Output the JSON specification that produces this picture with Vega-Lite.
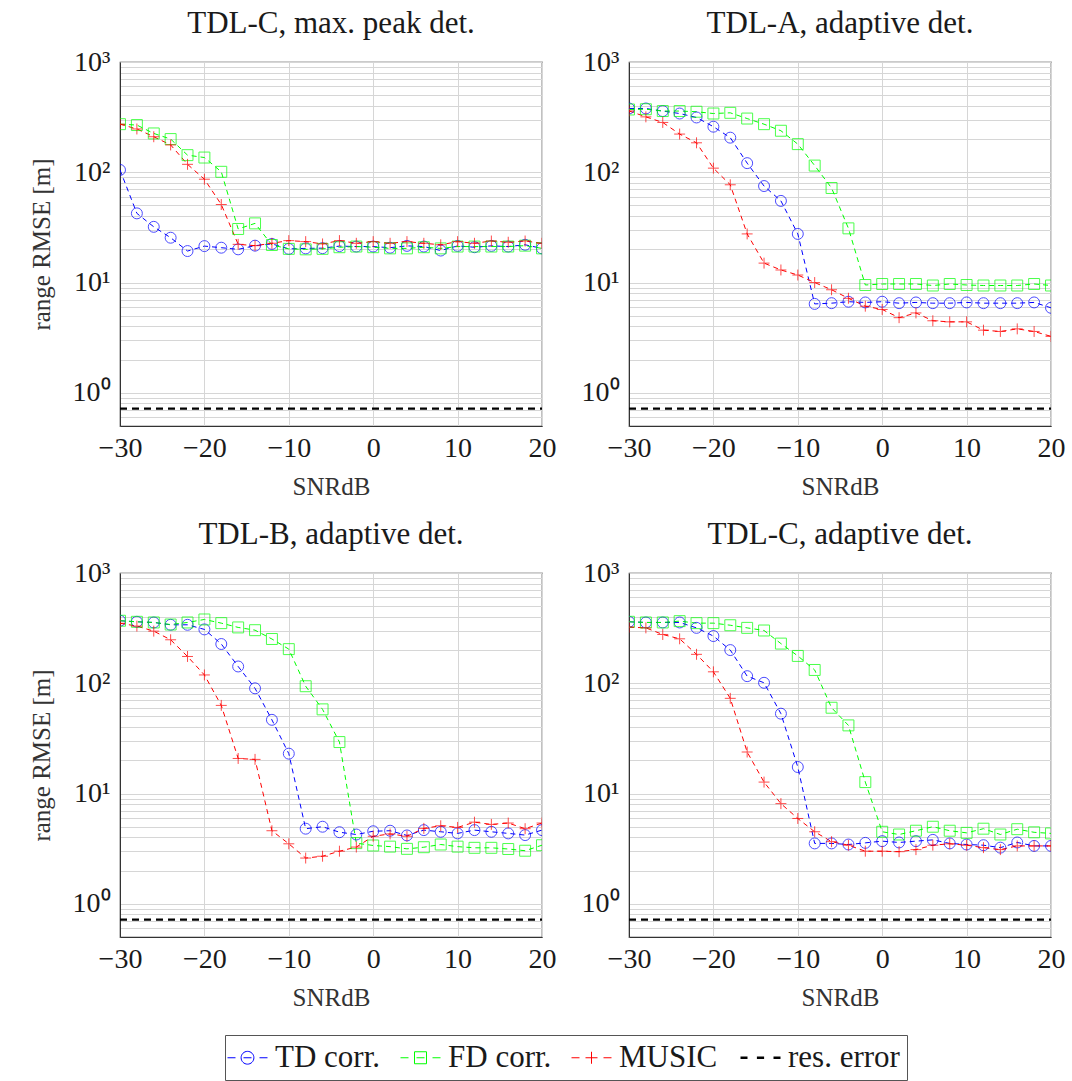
{
"$schema": "https://vega.github.io/schema/vega-lite/v6.json",
"padding": {"left": 28, "top": 7, "right": 10, "bottom": 5},
"data": {"values": [
{"panel":"A","series":"TD corr.","snr":-30,"rmse":105},{"panel":"A","series":"TD corr.","snr":-28,"rmse":42.4},{"panel":"A","series":"TD corr.","snr":-26,"rmse":32},{"panel":"A","series":"TD corr.","snr":-24,"rmse":25.5},{"panel":"A","series":"TD corr.","snr":-22,"rmse":19.3},{"panel":"A","series":"TD corr.","snr":-20,"rmse":21.4},{"panel":"A","series":"TD corr.","snr":-18,"rmse":20.7},{"panel":"A","series":"TD corr.","snr":-16,"rmse":20.0},{"panel":"A","series":"TD corr.","snr":-14,"rmse":21.6},{"panel":"A","series":"TD corr.","snr":-12,"rmse":22.4},{"panel":"A","series":"TD corr.","snr":-10,"rmse":20.2},{"panel":"A","series":"TD corr.","snr":-8,"rmse":20.4},{"panel":"A","series":"TD corr.","snr":-6,"rmse":20.5},{"panel":"A","series":"TD corr.","snr":-4,"rmse":21.4},{"panel":"A","series":"TD corr.","snr":-2,"rmse":21.2},{"panel":"A","series":"TD corr.","snr":0,"rmse":21.2},{"panel":"A","series":"TD corr.","snr":2,"rmse":20.7},{"panel":"A","series":"TD corr.","snr":4,"rmse":21.5},{"panel":"A","series":"TD corr.","snr":6,"rmse":21.2},{"panel":"A","series":"TD corr.","snr":8,"rmse":19.5},{"panel":"A","series":"TD corr.","snr":10,"rmse":21.5},{"panel":"A","series":"TD corr.","snr":12,"rmse":20.9},{"panel":"A","series":"TD corr.","snr":14,"rmse":21.5},{"panel":"A","series":"TD corr.","snr":16,"rmse":21.2},{"panel":"A","series":"TD corr.","snr":18,"rmse":22.0},{"panel":"A","series":"TD corr.","snr":20,"rmse":20.4},
{"panel":"A","series":"FD corr.","snr":-30,"rmse":273},{"panel":"A","series":"FD corr.","snr":-28,"rmse":268},{"panel":"A","series":"FD corr.","snr":-26,"rmse":225},{"panel":"A","series":"FD corr.","snr":-24,"rmse":200},{"panel":"A","series":"FD corr.","snr":-22,"rmse":143},{"panel":"A","series":"FD corr.","snr":-20,"rmse":136},{"panel":"A","series":"FD corr.","snr":-18,"rmse":101},{"panel":"A","series":"FD corr.","snr":-16,"rmse":30.6},{"panel":"A","series":"FD corr.","snr":-14,"rmse":34.4},{"panel":"A","series":"FD corr.","snr":-12,"rmse":21.9},{"panel":"A","series":"FD corr.","snr":-10,"rmse":20.2},{"panel":"A","series":"FD corr.","snr":-8,"rmse":20.0},{"panel":"A","series":"FD corr.","snr":-6,"rmse":20.2},{"panel":"A","series":"FD corr.","snr":-4,"rmse":20.9},{"panel":"A","series":"FD corr.","snr":-2,"rmse":21.2},{"panel":"A","series":"FD corr.","snr":0,"rmse":20.9},{"panel":"A","series":"FD corr.","snr":2,"rmse":20.4},{"panel":"A","series":"FD corr.","snr":4,"rmse":20.4},{"panel":"A","series":"FD corr.","snr":6,"rmse":20.9},{"panel":"A","series":"FD corr.","snr":8,"rmse":20.4},{"panel":"A","series":"FD corr.","snr":10,"rmse":21.2},{"panel":"A","series":"FD corr.","snr":12,"rmse":21.2},{"panel":"A","series":"FD corr.","snr":14,"rmse":21.2},{"panel":"A","series":"FD corr.","snr":16,"rmse":21.2},{"panel":"A","series":"FD corr.","snr":18,"rmse":21.6},{"panel":"A","series":"FD corr.","snr":20,"rmse":20.4},
{"panel":"A","series":"MUSIC","snr":-30,"rmse":273},{"panel":"A","series":"MUSIC","snr":-28,"rmse":247},{"panel":"A","series":"MUSIC","snr":-26,"rmse":210},{"panel":"A","series":"MUSIC","snr":-24,"rmse":177},{"panel":"A","series":"MUSIC","snr":-22,"rmse":118},{"panel":"A","series":"MUSIC","snr":-20,"rmse":86.5},{"panel":"A","series":"MUSIC","snr":-18,"rmse":51},{"panel":"A","series":"MUSIC","snr":-16,"rmse":22.2},{"panel":"A","series":"MUSIC","snr":-14,"rmse":21.6},{"panel":"A","series":"MUSIC","snr":-12,"rmse":22.7},{"panel":"A","series":"MUSIC","snr":-10,"rmse":24},{"panel":"A","series":"MUSIC","snr":-8,"rmse":23.5},{"panel":"A","series":"MUSIC","snr":-6,"rmse":22.4},{"panel":"A","series":"MUSIC","snr":-4,"rmse":24},{"panel":"A","series":"MUSIC","snr":-2,"rmse":22.7},{"panel":"A","series":"MUSIC","snr":0,"rmse":23.5},{"panel":"A","series":"MUSIC","snr":2,"rmse":22.7},{"panel":"A","series":"MUSIC","snr":4,"rmse":23.5},{"panel":"A","series":"MUSIC","snr":6,"rmse":22.7},{"panel":"A","series":"MUSIC","snr":8,"rmse":22.0},{"panel":"A","series":"MUSIC","snr":10,"rmse":23.5},{"panel":"A","series":"MUSIC","snr":12,"rmse":22.7},{"panel":"A","series":"MUSIC","snr":14,"rmse":23.8},{"panel":"A","series":"MUSIC","snr":16,"rmse":23.2},{"panel":"A","series":"MUSIC","snr":18,"rmse":23.8},{"panel":"A","series":"MUSIC","snr":20,"rmse":22.7},
{"panel":"A","series":"res. error","snr":-30,"rmse":0.72},{"panel":"A","series":"res. error","snr":20,"rmse":0.72},
{"panel":"B","series":"TD corr.","snr":-30,"rmse":379},{"panel":"B","series":"TD corr.","snr":-28,"rmse":379},{"panel":"B","series":"TD corr.","snr":-26,"rmse":359},{"panel":"B","series":"TD corr.","snr":-24,"rmse":341},{"panel":"B","series":"TD corr.","snr":-22,"rmse":314},{"panel":"B","series":"TD corr.","snr":-20,"rmse":259},{"panel":"B","series":"TD corr.","snr":-18,"rmse":206},{"panel":"B","series":"TD corr.","snr":-16,"rmse":121},{"panel":"B","series":"TD corr.","snr":-14,"rmse":75},{"panel":"B","series":"TD corr.","snr":-12,"rmse":55},{"panel":"B","series":"TD corr.","snr":-10,"rmse":27.6},{"panel":"B","series":"TD corr.","snr":-8,"rmse":6.4},{"panel":"B","series":"TD corr.","snr":-6,"rmse":6.5},{"panel":"B","series":"TD corr.","snr":-4,"rmse":6.7},{"panel":"B","series":"TD corr.","snr":-2,"rmse":6.6},{"panel":"B","series":"TD corr.","snr":0,"rmse":6.7},{"panel":"B","series":"TD corr.","snr":2,"rmse":6.5},{"panel":"B","series":"TD corr.","snr":4,"rmse":6.6},{"panel":"B","series":"TD corr.","snr":6,"rmse":6.5},{"panel":"B","series":"TD corr.","snr":8,"rmse":6.5},{"panel":"B","series":"TD corr.","snr":10,"rmse":6.6},{"panel":"B","series":"TD corr.","snr":12,"rmse":6.5},{"panel":"B","series":"TD corr.","snr":14,"rmse":6.5},{"panel":"B","series":"TD corr.","snr":16,"rmse":6.5},{"panel":"B","series":"TD corr.","snr":18,"rmse":6.6},{"panel":"B","series":"TD corr.","snr":20,"rmse":5.9},
{"panel":"B","series":"FD corr.","snr":-30,"rmse":371},{"panel":"B","series":"FD corr.","snr":-28,"rmse":373},{"panel":"B","series":"FD corr.","snr":-26,"rmse":359},{"panel":"B","series":"FD corr.","snr":-24,"rmse":359},{"panel":"B","series":"FD corr.","snr":-22,"rmse":354},{"panel":"B","series":"FD corr.","snr":-20,"rmse":341},{"panel":"B","series":"FD corr.","snr":-18,"rmse":346},{"panel":"B","series":"FD corr.","snr":-16,"rmse":307},{"panel":"B","series":"FD corr.","snr":-14,"rmse":273},{"panel":"B","series":"FD corr.","snr":-12,"rmse":238},{"panel":"B","series":"FD corr.","snr":-10,"rmse":180},{"panel":"B","series":"FD corr.","snr":-8,"rmse":115},{"panel":"B","series":"FD corr.","snr":-6,"rmse":72},{"panel":"B","series":"FD corr.","snr":-4,"rmse":31},{"panel":"B","series":"FD corr.","snr":-2,"rmse":9.5},{"panel":"B","series":"FD corr.","snr":0,"rmse":9.7},{"panel":"B","series":"FD corr.","snr":2,"rmse":9.7},{"panel":"B","series":"FD corr.","snr":4,"rmse":9.7},{"panel":"B","series":"FD corr.","snr":6,"rmse":9.4},{"panel":"B","series":"FD corr.","snr":8,"rmse":9.7},{"panel":"B","series":"FD corr.","snr":10,"rmse":9.5},{"panel":"B","series":"FD corr.","snr":12,"rmse":9.4},{"panel":"B","series":"FD corr.","snr":14,"rmse":9.4},{"panel":"B","series":"FD corr.","snr":16,"rmse":9.4},{"panel":"B","series":"FD corr.","snr":18,"rmse":9.7},{"panel":"B","series":"FD corr.","snr":20,"rmse":9.4},
{"panel":"B","series":"MUSIC","snr":-30,"rmse":360},{"panel":"B","series":"MUSIC","snr":-28,"rmse":318},{"panel":"B","series":"MUSIC","snr":-26,"rmse":283},{"panel":"B","series":"MUSIC","snr":-24,"rmse":222},{"panel":"B","series":"MUSIC","snr":-22,"rmse":185},{"panel":"B","series":"MUSIC","snr":-20,"rmse":109},{"panel":"B","series":"MUSIC","snr":-18,"rmse":77},{"panel":"B","series":"MUSIC","snr":-16,"rmse":27.6},{"panel":"B","series":"MUSIC","snr":-14,"rmse":15},{"panel":"B","series":"MUSIC","snr":-12,"rmse":13},{"panel":"B","series":"MUSIC","snr":-10,"rmse":11.7},{"panel":"B","series":"MUSIC","snr":-8,"rmse":10},{"panel":"B","series":"MUSIC","snr":-6,"rmse":8.6},{"panel":"B","series":"MUSIC","snr":-4,"rmse":7.2},{"panel":"B","series":"MUSIC","snr":-2,"rmse":6.1},{"panel":"B","series":"MUSIC","snr":0,"rmse":5.7},{"panel":"B","series":"MUSIC","snr":2,"rmse":4.8},{"panel":"B","series":"MUSIC","snr":4,"rmse":5.3},{"panel":"B","series":"MUSIC","snr":6,"rmse":4.5},{"panel":"B","series":"MUSIC","snr":8,"rmse":4.4},{"panel":"B","series":"MUSIC","snr":10,"rmse":4.4},{"panel":"B","series":"MUSIC","snr":12,"rmse":3.7},{"panel":"B","series":"MUSIC","snr":14,"rmse":3.6},{"panel":"B","series":"MUSIC","snr":16,"rmse":3.8},{"panel":"B","series":"MUSIC","snr":18,"rmse":3.6},{"panel":"B","series":"MUSIC","snr":20,"rmse":3.25},
{"panel":"B","series":"res. error","snr":-30,"rmse":0.72},{"panel":"B","series":"res. error","snr":20,"rmse":0.72},
{"panel":"C","series":"TD corr.","snr":-30,"rmse":369},{"panel":"C","series":"TD corr.","snr":-28,"rmse":361},{"panel":"C","series":"TD corr.","snr":-26,"rmse":356},{"panel":"C","series":"TD corr.","snr":-24,"rmse":339},{"panel":"C","series":"TD corr.","snr":-22,"rmse":339},{"panel":"C","series":"TD corr.","snr":-20,"rmse":308},{"panel":"C","series":"TD corr.","snr":-18,"rmse":227},{"panel":"C","series":"TD corr.","snr":-16,"rmse":142},{"panel":"C","series":"TD corr.","snr":-14,"rmse":90},{"panel":"C","series":"TD corr.","snr":-12,"rmse":46.6},{"panel":"C","series":"TD corr.","snr":-10,"rmse":23},{"panel":"C","series":"TD corr.","snr":-8,"rmse":4.8},{"panel":"C","series":"TD corr.","snr":-6,"rmse":5.0},{"panel":"C","series":"TD corr.","snr":-4,"rmse":4.46},{"panel":"C","series":"TD corr.","snr":-2,"rmse":4.25},{"panel":"C","series":"TD corr.","snr":0,"rmse":4.55},{"panel":"C","series":"TD corr.","snr":2,"rmse":4.6},{"panel":"C","series":"TD corr.","snr":4,"rmse":4.17},{"panel":"C","series":"TD corr.","snr":6,"rmse":4.66},{"panel":"C","series":"TD corr.","snr":8,"rmse":4.5},{"panel":"C","series":"TD corr.","snr":10,"rmse":4.35},{"panel":"C","series":"TD corr.","snr":12,"rmse":4.66},{"panel":"C","series":"TD corr.","snr":14,"rmse":4.5},{"panel":"C","series":"TD corr.","snr":16,"rmse":4.35},{"panel":"C","series":"TD corr.","snr":18,"rmse":4.2},{"panel":"C","series":"TD corr.","snr":20,"rmse":4.66},
{"panel":"C","series":"FD corr.","snr":-30,"rmse":369},{"panel":"C","series":"FD corr.","snr":-28,"rmse":361},{"panel":"C","series":"FD corr.","snr":-26,"rmse":356},{"panel":"C","series":"FD corr.","snr":-24,"rmse":341},{"panel":"C","series":"FD corr.","snr":-22,"rmse":356},{"panel":"C","series":"FD corr.","snr":-20,"rmse":379},{"panel":"C","series":"FD corr.","snr":-18,"rmse":351},{"panel":"C","series":"FD corr.","snr":-16,"rmse":321},{"panel":"C","series":"FD corr.","snr":-14,"rmse":303},{"panel":"C","series":"FD corr.","snr":-12,"rmse":252},{"panel":"C","series":"FD corr.","snr":-10,"rmse":204},{"panel":"C","series":"FD corr.","snr":-8,"rmse":94},{"panel":"C","series":"FD corr.","snr":-6,"rmse":58},{"panel":"C","series":"FD corr.","snr":-4,"rmse":29.3},{"panel":"C","series":"FD corr.","snr":-2,"rmse":3.55},{"panel":"C","series":"FD corr.","snr":0,"rmse":3.38},{"panel":"C","series":"FD corr.","snr":2,"rmse":3.3},{"panel":"C","series":"FD corr.","snr":4,"rmse":3.15},{"panel":"C","series":"FD corr.","snr":6,"rmse":3.26},{"panel":"C","series":"FD corr.","snr":8,"rmse":3.45},{"panel":"C","series":"FD corr.","snr":10,"rmse":3.3},{"panel":"C","series":"FD corr.","snr":12,"rmse":3.22},{"panel":"C","series":"FD corr.","snr":14,"rmse":3.22},{"panel":"C","series":"FD corr.","snr":16,"rmse":3.14},{"panel":"C","series":"FD corr.","snr":18,"rmse":3.03},{"panel":"C","series":"FD corr.","snr":20,"rmse":3.4},
{"panel":"C","series":"MUSIC","snr":-30,"rmse":350},{"panel":"C","series":"MUSIC","snr":-28,"rmse":330},{"panel":"C","series":"MUSIC","snr":-26,"rmse":297},{"panel":"C","series":"MUSIC","snr":-24,"rmse":248},{"panel":"C","series":"MUSIC","snr":-22,"rmse":175},{"panel":"C","series":"MUSIC","snr":-20,"rmse":119},{"panel":"C","series":"MUSIC","snr":-18,"rmse":63},{"panel":"C","series":"MUSIC","snr":-16,"rmse":20.8},{"panel":"C","series":"MUSIC","snr":-14,"rmse":20.4},{"panel":"C","series":"MUSIC","snr":-12,"rmse":4.6},{"panel":"C","series":"MUSIC","snr":-10,"rmse":3.5},{"panel":"C","series":"MUSIC","snr":-8,"rmse":2.6},{"panel":"C","series":"MUSIC","snr":-6,"rmse":2.7},{"panel":"C","series":"MUSIC","snr":-4,"rmse":3.0},{"panel":"C","series":"MUSIC","snr":-2,"rmse":3.27},{"panel":"C","series":"MUSIC","snr":0,"rmse":4.1},{"panel":"C","series":"MUSIC","snr":2,"rmse":4.3},{"panel":"C","series":"MUSIC","snr":4,"rmse":4.1},{"panel":"C","series":"MUSIC","snr":6,"rmse":4.83},{"panel":"C","series":"MUSIC","snr":8,"rmse":5.1},{"panel":"C","series":"MUSIC","snr":10,"rmse":4.93},{"panel":"C","series":"MUSIC","snr":12,"rmse":5.5},{"panel":"C","series":"MUSIC","snr":14,"rmse":5.25},{"panel":"C","series":"MUSIC","snr":16,"rmse":5.4},{"panel":"C","series":"MUSIC","snr":18,"rmse":4.8},{"panel":"C","series":"MUSIC","snr":20,"rmse":5.4},
{"panel":"C","series":"res. error","snr":-30,"rmse":0.72},{"panel":"C","series":"res. error","snr":20,"rmse":0.72},
{"panel":"D","series":"TD corr.","snr":-30,"rmse":361},{"panel":"D","series":"TD corr.","snr":-28,"rmse":356},{"panel":"D","series":"TD corr.","snr":-26,"rmse":356},{"panel":"D","series":"TD corr.","snr":-24,"rmse":356},{"panel":"D","series":"TD corr.","snr":-22,"rmse":318},{"panel":"D","series":"TD corr.","snr":-20,"rmse":268},{"panel":"D","series":"TD corr.","snr":-18,"rmse":200},{"panel":"D","series":"TD corr.","snr":-16,"rmse":116},{"panel":"D","series":"TD corr.","snr":-14,"rmse":101},{"panel":"D","series":"TD corr.","snr":-12,"rmse":53},{"panel":"D","series":"TD corr.","snr":-10,"rmse":17.4},{"panel":"D","series":"TD corr.","snr":-8,"rmse":3.53},{"panel":"D","series":"TD corr.","snr":-6,"rmse":3.53},{"panel":"D","series":"TD corr.","snr":-4,"rmse":3.45},{"panel":"D","series":"TD corr.","snr":-2,"rmse":3.57},{"panel":"D","series":"TD corr.","snr":0,"rmse":3.7},{"panel":"D","series":"TD corr.","snr":2,"rmse":3.6},{"panel":"D","series":"TD corr.","snr":4,"rmse":3.7},{"panel":"D","series":"TD corr.","snr":6,"rmse":3.8},{"panel":"D","series":"TD corr.","snr":8,"rmse":3.53},{"panel":"D","series":"TD corr.","snr":10,"rmse":3.45},{"panel":"D","series":"TD corr.","snr":12,"rmse":3.4},{"panel":"D","series":"TD corr.","snr":14,"rmse":3.23},{"panel":"D","series":"TD corr.","snr":16,"rmse":3.6},{"panel":"D","series":"TD corr.","snr":18,"rmse":3.35},{"panel":"D","series":"TD corr.","snr":20,"rmse":3.35},
{"panel":"D","series":"FD corr.","snr":-30,"rmse":361},{"panel":"D","series":"FD corr.","snr":-28,"rmse":356},{"panel":"D","series":"FD corr.","snr":-26,"rmse":356},{"panel":"D","series":"FD corr.","snr":-24,"rmse":366},{"panel":"D","series":"FD corr.","snr":-22,"rmse":351},{"panel":"D","series":"FD corr.","snr":-20,"rmse":351},{"panel":"D","series":"FD corr.","snr":-18,"rmse":336},{"panel":"D","series":"FD corr.","snr":-16,"rmse":318},{"panel":"D","series":"FD corr.","snr":-14,"rmse":301},{"panel":"D","series":"FD corr.","snr":-12,"rmse":229},{"panel":"D","series":"FD corr.","snr":-10,"rmse":177},{"panel":"D","series":"FD corr.","snr":-8,"rmse":132},{"panel":"D","series":"FD corr.","snr":-6,"rmse":60},{"panel":"D","series":"FD corr.","snr":-4,"rmse":41.5},{"panel":"D","series":"FD corr.","snr":-2,"rmse":12.7},{"panel":"D","series":"FD corr.","snr":0,"rmse":4.5},{"panel":"D","series":"FD corr.","snr":2,"rmse":4.25},{"panel":"D","series":"FD corr.","snr":4,"rmse":4.6},{"panel":"D","series":"FD corr.","snr":6,"rmse":5.0},{"panel":"D","series":"FD corr.","snr":8,"rmse":4.6},{"panel":"D","series":"FD corr.","snr":10,"rmse":4.4},{"panel":"D","series":"FD corr.","snr":12,"rmse":4.8},{"panel":"D","series":"FD corr.","snr":14,"rmse":4.25},{"panel":"D","series":"FD corr.","snr":16,"rmse":4.75},{"panel":"D","series":"FD corr.","snr":18,"rmse":4.45},{"panel":"D","series":"FD corr.","snr":20,"rmse":4.35},
{"panel":"D","series":"MUSIC","snr":-30,"rmse":323},{"panel":"D","series":"MUSIC","snr":-28,"rmse":318},{"panel":"D","series":"MUSIC","snr":-26,"rmse":277},{"panel":"D","series":"MUSIC","snr":-24,"rmse":253},{"panel":"D","series":"MUSIC","snr":-22,"rmse":183},{"panel":"D","series":"MUSIC","snr":-20,"rmse":127},{"panel":"D","series":"MUSIC","snr":-18,"rmse":73},{"panel":"D","series":"MUSIC","snr":-16,"rmse":23.8},{"panel":"D","series":"MUSIC","snr":-14,"rmse":12.7},{"panel":"D","series":"MUSIC","snr":-12,"rmse":8.1},{"panel":"D","series":"MUSIC","snr":-10,"rmse":5.94},{"panel":"D","series":"MUSIC","snr":-8,"rmse":4.5},{"panel":"D","series":"MUSIC","snr":-6,"rmse":3.66},{"panel":"D","series":"MUSIC","snr":-4,"rmse":3.4},{"panel":"D","series":"MUSIC","snr":-2,"rmse":3.0},{"panel":"D","series":"MUSIC","snr":0,"rmse":3.0},{"panel":"D","series":"MUSIC","snr":2,"rmse":2.97},{"panel":"D","series":"MUSIC","snr":4,"rmse":3.1},{"panel":"D","series":"MUSIC","snr":6,"rmse":3.4},{"panel":"D","series":"MUSIC","snr":8,"rmse":3.5},{"panel":"D","series":"MUSIC","snr":10,"rmse":3.4},{"panel":"D","series":"MUSIC","snr":12,"rmse":3.23},{"panel":"D","series":"MUSIC","snr":14,"rmse":3.1},{"panel":"D","series":"MUSIC","snr":16,"rmse":3.35},{"panel":"D","series":"MUSIC","snr":18,"rmse":3.35},{"panel":"D","series":"MUSIC","snr":20,"rmse":3.35},
{"panel":"D","series":"res. error","snr":-30,"rmse":0.72},{"panel":"D","series":"res. error","snr":20,"rmse":0.72}
]},
"config": {
  "font": "Liberation Serif",
  "view": {"stroke": "#333333", "strokeWidth": 1.2},
  "axis": {"labelFont": "Liberation Serif", "labelFontSize": 28, "labelColor": "#1a1a1a", "titleFont": "Liberation Serif", "titleFontSize": 25, "titleFontWeight": "normal", "titleColor": "#333333", "gridColor": "#d6d6d6", "gridWidth": 1, "domainColor": "#333333", "ticks": false, "labelFlush": false, "labelOverlap": false},
  "title": {"font": "Liberation Serif", "fontSize": 31, "fontWeight": "normal", "color": "#1a1a1a", "offset": 8},
  "legend": {"labelFont": "Liberation Serif", "labelFontSize": 31, "labelColor": "#1a1a1a"}
},
"columns": 2,
"spacing": {"row": 18, "column": 23},
"concat": [
 {"title": "TDL-C, max. peak det.", "width": 422, "height": 364,
  "transform": [{"filter": "datum.panel == 'A'"}],
  "encoding": {
   "x": {"field": "snr", "type": "quantitative", "scale": {"domain": [-30, 20], "nice": false}, "axis": {"values": [-30, -20, -10, 0, 10, 20], "title": "SNRdB", "labelPadding": 8, "titlePadding": 12}},
   "y": {"field": "rmse", "type": "quantitative", "scale": {"type": "log", "domain": [0.5, 1000], "nice": false}, "axis": {"values": [0.5,0.6,0.7,0.8,0.9,1,2,3,4,5,6,7,8,9,10,20,30,40,50,60,70,80,90,100,200,300,400,500,600,700,800,900,1000], "labelExpr": "datum.value == 1 ? '10⁰' : datum.value == 10 ? '10¹' : datum.value == 100 ? '10²' : datum.value == 1000 ? '10³' : ''", "title": "range RMSE [m]", "labelPadding": 10, "titlePadding": 18}},
   "color": {"field": "series", "type": "nominal", "scale": {"domain": ["TD corr.", "FD corr.", "MUSIC", "res. error"], "range": ["#0000ff", "#00ff00", "#ff0000", "#000000"]},
     "legend": {"orient": "none", "legendX": 105, "legendY": 973, "direction": "horizontal", "columns": 4, "title": null, "strokeColor": "#555555", "padding": 7, "symbolSize": 1600, "labelOffset": 12, "columnPadding": 17, "labelLimit": 300, "labelFont": "Liberation Serif", "labelFontSize": 31, "labelColor": "#1a1a1a",
       "encode": {"symbols": {"update": {
         "shape": {"signal": "datum.value == 'TD corr.' ? 'M-1,0H-0.6M-0.2,0H0.2M0.6,0H1M0.32,0A0.32,0.32,0,1,1,-0.32,0A0.32,0.32,0,1,1,0.32,0' : datum.value == 'FD corr.' ? 'M-1,0H-0.6M-0.2,0H0.2M0.6,0H1M-0.3,-0.3H0.3V0.3H-0.3Z' : datum.value == 'MUSIC' ? 'M-1,0H-0.6M-0.3,0H0.3M0,-0.3V0.3M0.6,0H1' : 'M-1,0H-0.65M-0.18,0H0.18M0.65,0H1'"},
         "strokeWidth": {"signal": "datum.value == 'res. error' ? 2.4 : 1"},
         "fill": {"value": "transparent"},
         "strokeDash": {"value": []}
       }}}}}
  },
  "layer": [
   {"transform": [{"filter": "datum.series != 'res. error'"}], "mark": {"type": "line", "clip": true, "strokeWidth": 1, "strokeDash": [5, 4]}, "encoding": {}},
   {"transform": [{"filter": "datum.series == 'res. error'"}], "mark": {"type": "line", "clip": true, "strokeWidth": 2.2, "strokeDash": [7, 5]}, "encoding": {}},
   {"transform": [{"filter": "datum.series != 'res. error'"}], "mark": {"type": "point", "filled": false, "strokeWidth": 1, "size": 120, "clip": true}, "encoding": {
     "shape": {"field": "series", "type": "nominal", "scale": {"domain": ["TD corr.", "FD corr.", "MUSIC"], "range": ["circle", "square", "M-1,0H1M0,-1V1"]}, "legend": null}}}
  ]},
 {"title": "TDL-A, adaptive det.", "width": 422, "height": 364,
  "transform": [{"filter": "datum.panel == 'B'"}],
  "encoding": {
   "x": {"field": "snr", "type": "quantitative", "scale": {"domain": [-30, 20], "nice": false}, "axis": {"values": [-30, -20, -10, 0, 10, 20], "title": "SNRdB", "labelPadding": 8, "titlePadding": 12}},
   "y": {"field": "rmse", "type": "quantitative", "scale": {"type": "log", "domain": [0.5, 1000], "nice": false}, "axis": {"values": [0.5,0.6,0.7,0.8,0.9,1,2,3,4,5,6,7,8,9,10,20,30,40,50,60,70,80,90,100,200,300,400,500,600,700,800,900,1000], "labelExpr": "datum.value == 1 ? '10⁰' : datum.value == 10 ? '10¹' : datum.value == 100 ? '10²' : datum.value == 1000 ? '10³' : ''", "title": null, "labelPadding": 10}},
   "color": {"field": "series", "type": "nominal"}
  },
  "layer": [
   {"transform": [{"filter": "datum.series != 'res. error'"}], "mark": {"type": "line", "clip": true, "strokeWidth": 1, "strokeDash": [5, 4]}, "encoding": {}},
   {"transform": [{"filter": "datum.series == 'res. error'"}], "mark": {"type": "line", "clip": true, "strokeWidth": 2.2, "strokeDash": [7, 5]}, "encoding": {}},
   {"transform": [{"filter": "datum.series != 'res. error'"}], "mark": {"type": "point", "filled": false, "strokeWidth": 1, "size": 120, "clip": true}, "encoding": {
     "shape": {"field": "series", "type": "nominal", "legend": null}}}
  ]},
 {"title": "TDL-B, adaptive det.", "width": 422, "height": 364,
  "transform": [{"filter": "datum.panel == 'C'"}],
  "encoding": {
   "x": {"field": "snr", "type": "quantitative", "scale": {"domain": [-30, 20], "nice": false}, "axis": {"values": [-30, -20, -10, 0, 10, 20], "title": "SNRdB", "labelPadding": 8, "titlePadding": 12}},
   "y": {"field": "rmse", "type": "quantitative", "scale": {"type": "log", "domain": [0.5, 1000], "nice": false}, "axis": {"values": [0.5,0.6,0.7,0.8,0.9,1,2,3,4,5,6,7,8,9,10,20,30,40,50,60,70,80,90,100,200,300,400,500,600,700,800,900,1000], "labelExpr": "datum.value == 1 ? '10⁰' : datum.value == 10 ? '10¹' : datum.value == 100 ? '10²' : datum.value == 1000 ? '10³' : ''", "title": "range RMSE [m]", "labelPadding": 10, "titlePadding": 18}},
   "color": {"field": "series", "type": "nominal"}
  },
  "layer": [
   {"transform": [{"filter": "datum.series != 'res. error'"}], "mark": {"type": "line", "clip": true, "strokeWidth": 1, "strokeDash": [5, 4]}, "encoding": {}},
   {"transform": [{"filter": "datum.series == 'res. error'"}], "mark": {"type": "line", "clip": true, "strokeWidth": 2.2, "strokeDash": [7, 5]}, "encoding": {}},
   {"transform": [{"filter": "datum.series != 'res. error'"}], "mark": {"type": "point", "filled": false, "strokeWidth": 1, "size": 120, "clip": true}, "encoding": {
     "shape": {"field": "series", "type": "nominal", "legend": null}}}
  ]},
 {"title": "TDL-C, adaptive det.", "width": 422, "height": 364,
  "transform": [{"filter": "datum.panel == 'D'"}],
  "encoding": {
   "x": {"field": "snr", "type": "quantitative", "scale": {"domain": [-30, 20], "nice": false}, "axis": {"values": [-30, -20, -10, 0, 10, 20], "title": "SNRdB", "labelPadding": 8, "titlePadding": 12}},
   "y": {"field": "rmse", "type": "quantitative", "scale": {"type": "log", "domain": [0.5, 1000], "nice": false}, "axis": {"values": [0.5,0.6,0.7,0.8,0.9,1,2,3,4,5,6,7,8,9,10,20,30,40,50,60,70,80,90,100,200,300,400,500,600,700,800,900,1000], "labelExpr": "datum.value == 1 ? '10⁰' : datum.value == 10 ? '10¹' : datum.value == 100 ? '10²' : datum.value == 1000 ? '10³' : ''", "title": null, "labelPadding": 10}},
   "color": {"field": "series", "type": "nominal"}
  },
  "layer": [
   {"transform": [{"filter": "datum.series != 'res. error'"}], "mark": {"type": "line", "clip": true, "strokeWidth": 1, "strokeDash": [5, 4]}, "encoding": {}},
   {"transform": [{"filter": "datum.series == 'res. error'"}], "mark": {"type": "line", "clip": true, "strokeWidth": 2.2, "strokeDash": [7, 5]}, "encoding": {}},
   {"transform": [{"filter": "datum.series != 'res. error'"}], "mark": {"type": "point", "filled": false, "strokeWidth": 1, "size": 120, "clip": true}, "encoding": {
     "shape": {"field": "series", "type": "nominal", "legend": null}}}
  ]}
]
}
